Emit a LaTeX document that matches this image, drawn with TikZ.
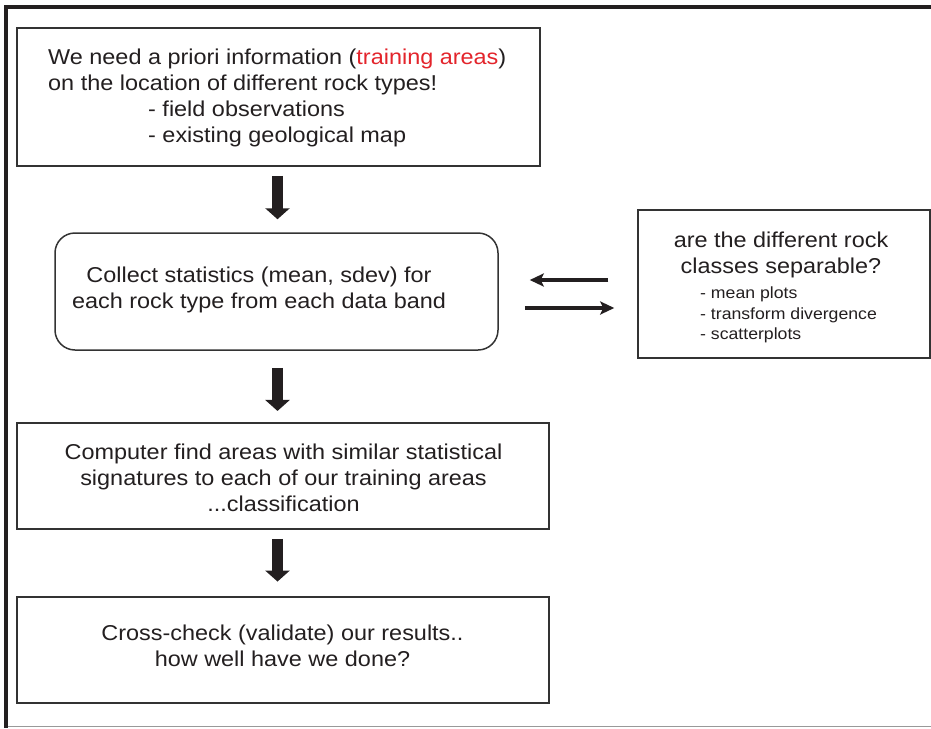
\documentclass[tikz,border=0pt]{standalone}
\usepackage{fontspec}
\setmainfont{Liberation Sans}[FakeStretch=1.09]
\usetikzlibrary{arrows.meta}
\definecolor{ink}{HTML}{231F20}
\definecolor{redtxt}{HTML}{E3242B}
\begin{document}
\begin{tikzpicture}[x=1pt,y=-1pt,
  box/.style={draw=black!80, line width=1.5pt, inner sep=0pt},
  bigtxt/.style={text=ink, inner sep=0pt, font=\fontsize{21.5}{26}\selectfont},
  smalltxt/.style={text=ink, inner sep=0pt, font=\fontsize{16.2}{20.5}\selectfont},
  blockarrow/.style={draw=ink, line width=11pt, -{Triangle[width=24pt,length=11pt]}},
  sidearrow/.style={draw=ink, line width=3.2pt, -{Stealth[length=14pt,width=13pt,inset=3pt]}}]
\useasboundingbox (0,0) rectangle (931,728);
\fill[white] (0,0) rectangle (931,728);
% outer frame
\draw[ink, line width=4.3pt] (4,7.2) -- (931,7.2);
\draw[ink, line width=4.3pt] (6.2,5) -- (6.2,728);
\draw[black!40, line width=1.2pt] (8,726.6) -- (931,726.6);
% boxes
\node[box, minimum width=523pt, minimum height=138pt] (b1) at (278.5,97) {};
\node[bigtxt, anchor=west, align=left] (t1) at (48,98) {We need a priori information ({\color{redtxt}training areas})\\ on the location of different rock types!\\ \hspace*{100pt}- field observations\\ \hspace*{100pt}- existing geological map};
\node[box, rounded corners=20pt, minimum width=443pt, minimum height=117pt] (b2) at (276.5,291.5) {};
\node[bigtxt, align=center] (t2) at (259,290) {Collect statistics (mean, sdev) for\\ each rock type from each data band};
\node[box, minimum width=292pt, minimum height=148pt] (b3) at (784,284) {};
\node[bigtxt, align=center] (t3) at (781,255) {are the different rock\\ classes separable?};
\node[smalltxt, anchor=west, align=left] (t3s) at (700,315) {- mean plots\\ - transform divergence\\ - scatterplots};
\node[box, minimum width=532pt, minimum height=106pt] (b4) at (283,476) {};
\node[bigtxt, align=center] (t4) at (283.5,478) {Computer find areas with similar statistical\\ signatures to each of our training areas\\ ...classification};
\node[box, minimum width=532pt, minimum height=106pt] (b5) at (283,650) {};
\node[bigtxt, align=center] (t5) at (282.5,646) {Cross-check (validate) our results..\\ how well have we done?};
% block arrows
\coordinate (ax) at (277.5,0);
\draw[blockarrow, shorten <=9pt, shorten >=13pt] (b1.south -| ax) -- (b2.north -| ax);
\draw[blockarrow, shorten <=17pt, shorten >=11.3pt] (b2.south -| ax) -- (b4.north -| ax);
\draw[blockarrow, shorten <=9pt, shorten >=14.7pt] (b4.south -| ax) -- (b5.north -| ax);
% side arrows
\coordinate (ya) at (0,280);
\coordinate (yb) at (0,308);
\draw[sidearrow, shorten <=29pt, shorten >=31pt] (b3.west |- ya) -- (b2.east |- ya);
\draw[sidearrow, shorten <=26pt, shorten >=23pt] (b2.east |- yb) -- (b3.west |- yb);
\end{tikzpicture}
\end{document}
